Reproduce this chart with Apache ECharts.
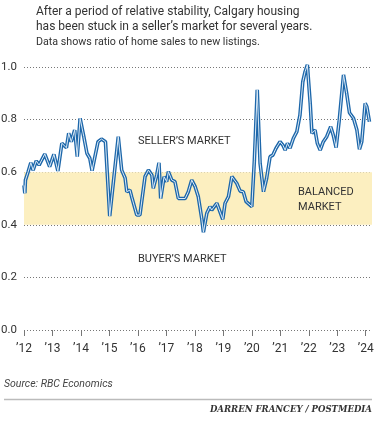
<!DOCTYPE html>
<html>
<head>
<meta charset="utf-8">
<script src="https://cdn.jsdelivr.net/npm/echarts@6/dist/echarts.min.js"></script>
<style>
  html, body { margin: 0; padding: 0; background: #fff; }
  #chart { width: 375px; height: 428px; }
</style>
</head>
<body>
<div id="chart"></div>
<script>
// ratio of home sales to new listings, Calgary (decimal years)
var dates = [
  2012.00, 2012.03, 2012.05, 2012.14, 2012.24, 2012.32, 2012.43, 2012.53, 2012.73, 2012.90,
  2013.05, 2013.19, 2013.33, 2013.49, 2013.57, 2013.66, 2013.78, 2013.87, 2013.97,
  2014.10, 2014.21, 2014.31, 2014.39, 2014.60, 2014.72, 2014.86, 2015.01,
  2015.26, 2015.31, 2015.43, 2015.55, 2015.61, 2015.72, 2015.78, 2015.96,
  2016.07, 2016.25, 2016.37, 2016.49, 2016.54, 2016.66, 2016.74, 2016.80, 2016.92,
  2017.01, 2017.07, 2017.19, 2017.30, 2017.42, 2017.66, 2017.77, 2017.89,
  2018.01, 2018.12, 2018.24, 2018.30, 2018.42, 2018.53, 2018.59, 2018.77, 2018.98,
  2019.06, 2019.18, 2019.30, 2019.47, 2019.59, 2019.70, 2019.80,
  2020.00, 2020.09, 2020.19, 2020.29, 2020.41, 2020.52, 2020.64, 2020.74, 2020.85, 2020.99,
  2021.09, 2021.17, 2021.25, 2021.34, 2021.46, 2021.58, 2021.69, 2021.79, 2021.87, 2021.95,
  2022.05, 2022.11, 2022.22, 2022.30, 2022.40, 2022.51, 2022.63, 2022.77, 2022.86, 2022.96,
  2023.07, 2023.22, 2023.33, 2023.43, 2023.57, 2023.69, 2023.78, 2023.86, 2023.98,
  2024.04, 2024.13
];
var ratios = [
  0.55, 0.52, 0.57, 0.60, 0.636, 0.608, 0.643, 0.627, 0.669, 0.621,
  0.668, 0.605, 0.71, 0.693, 0.748, 0.716, 0.76, 0.659, 0.805,
  0.735, 0.672, 0.653, 0.606, 0.716, 0.726, 0.716, 0.433,
  0.684, 0.735, 0.608, 0.578, 0.526, 0.532, 0.507, 0.437,
  0.437, 0.583, 0.608, 0.589, 0.539, 0.589, 0.636, 0.50, 0.583,
  0.564, 0.602, 0.57, 0.564, 0.50, 0.50, 0.526, 0.57,
  0.545, 0.507, 0.425, 0.372, 0.444, 0.469, 0.456, 0.482, 0.421,
  0.482, 0.507, 0.583, 0.558, 0.528, 0.526, 0.488,
  0.469, 0.646, 0.913, 0.634, 0.526, 0.577, 0.659, 0.665, 0.691, 0.716,
  0.703, 0.684, 0.71, 0.691, 0.729, 0.754, 0.817, 0.944, 0.982, 1.008,
  0.862, 0.748, 0.76, 0.71, 0.684, 0.716, 0.735, 0.773, 0.741, 0.694,
  0.798, 0.97, 0.90, 0.826, 0.805, 0.76, 0.687, 0.716, 0.862,
  0.849, 0.792
];
var yearTicks = [2012, 2013, 2014, 2015, 2016, 2017, 2018, 2019, 2020, 2021, 2022, 2023, 2024];
var balancedBand = [0.4, 0.6];

var sans = 'Roboto, "DejaVu Sans Condensed", sans-serif';

var lineData = dates.map(function (d, i) { return [d, ratios[i]]; });

var myChart = echarts.init(document.getElementById('chart'));
myChart.setOption({
  animation: false,
  title: {
    text: 'After a period of relative stability, Calgary housing\nhas been stuck in a seller\u2019s market for several years.',
    subtext: 'Data shows ratio of home sales to new listings.',
    left: 36,
    top: 4,
    padding: 0,
    itemGap: 2,
    textStyle: { fontFamily: sans, fontSize: 12, fontWeight: 'normal', color: '#333', lineHeight: 15 },
    subtextStyle: { fontFamily: sans, fontSize: 10.7, color: '#333', lineHeight: 13 }
  },
  grid: { left: 24, right: 3, top: 67, bottom: 98, outerBoundsMode: 'none' },
  xAxis: {
    type: 'value',
    min: 2012,
    max: 2024.22,
    interval: 1,
    offset: 4,
    axisLine: { show: false },
    splitLine: { show: false },
    axisTick: { show: true, length: 6, customValues: yearTicks, lineStyle: { color: '#777', width: 1 } },
    axisLabel: {
      customValues: yearTicks,
      margin: 9,
      fontFamily: sans,
      fontSize: 12,
      color: '#333',
      formatter: function (v) { return '\u2019' + String(v).slice(2); }
    }
  },
  yAxis: {
    type: 'value',
    min: 0,
    max: 1,
    interval: 0.2,
    axisLine: { show: false },
    axisTick: { show: false },
    axisLabel: {
      margin: 7,
      fontFamily: sans,
      fontSize: 11.5,
      color: '#333',
      formatter: function (v) { return v.toFixed(1); }
    },
    splitLine: { lineStyle: { type: [1, 2], color: '#777', width: 1 } }
  },
  series: [
    {
      type: 'line',
      data: lineData,
      showSymbol: false,
      clip: false,
      z: 3,
      lineStyle: { color: '#1d67aa', width: 3.6 },
      markArea: {
        silent: true,
        itemStyle: { color: '#fcefc0' },
        data: [[{ yAxis: balancedBand[0] }, { yAxis: balancedBand[1] }]]
      }
    },
    {
      type: 'line',
      data: lineData,
      showSymbol: false,
      clip: false,
      z: 4,
      lineStyle: { color: '#dbeaf7', width: 1 }
    }
  ],
  graphic: [
    { type: 'text', z: 10, left: 138, top: 136, style: { text: 'SELLER\u2019S MARKET', font: '11px ' + sans, fill: '#333' } },
    { type: 'text', z: 10, left: 138, top: 254, style: { text: 'BUYER\u2019S MARKET', font: '11px ' + sans, fill: '#333' } },
    { type: 'text', z: 10, left: 298, top: 185, style: { text: 'BALANCED\nMARKET', font: '11px ' + sans, fill: '#333', lineHeight: 15 } },
    { type: 'text', left: 4, top: 379, style: { text: 'Source: RBC Economics', font: 'italic 10.5px ' + sans, fill: '#444' } },
    { type: 'line', shape: { x1: 4, y1: 399.5, x2: 372, y2: 399.5 }, style: { stroke: '#bbb', lineWidth: 1.5 } },
    { type: 'text', right: 3, top: 405, style: { text: 'DARREN FRANCEY / POSTMEDIA', font: 'italic bold 9.5px "DejaVu Serif Condensed", "DejaVu Serif", serif', fill: '#333' } }
  ]
});
</script>
</body>
</html>
